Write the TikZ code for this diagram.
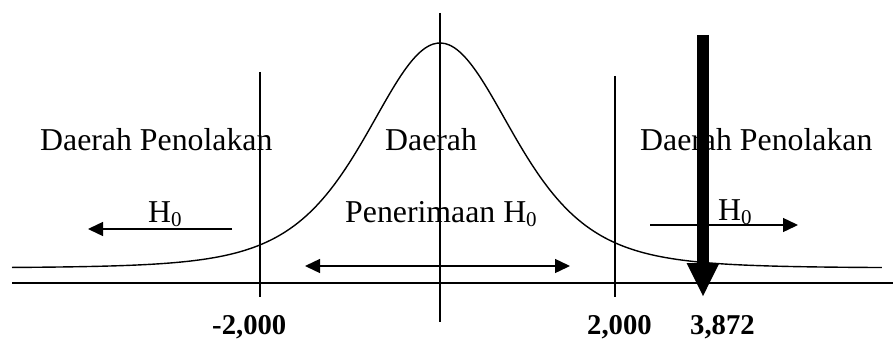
\documentclass[tikz,border=0pt]{standalone}
\usepackage{fontspec}
\setmainfont{Liberation Serif}
\usetikzlibrary{arrows.meta}
\begin{document}
\begin{tikzpicture}[x=1pt,y=-1pt,
  thinline/.style={line width=1.4pt},
  txt/.style={anchor=base west,inner sep=0pt,font=\fontsize{31.8}{34}\selectfont},
  num/.style={anchor=base west,inner sep=0pt,font=\fontsize{28.7}{30}\selectfont\bfseries},
  harrow/.style={line width=1.4pt,-{Triangle[length=15pt,width=14pt]}},
  darrow/.style={line width=1.4pt,{Triangle[length=15pt,width=14pt]}-{Triangle[length=15pt,width=14pt]}}]
\newcommand{\Hnol}{H\raisebox{-4pt}{\fontsize{21}{21}\selectfont 0}}
\useasboundingbox (0,0) rectangle (893,342);
% axis
\coordinate (axl) at (12,283);
\coordinate (axr) at (893,283);
\draw[line width=1.8pt] (axl) -- (axr);
% curve
\draw[thinline] plot[domain=-4.28:4.42,samples=220,smooth] ({440+100*\x},{268-225/((1+\x*\x/2.852)^3)});
% vertical lines
\coordinate (v1t) at (260,72);  \coordinate (v1b) at (260,297);
\coordinate (v2t) at (440,13);  \coordinate (v2b) at (440,322);
\coordinate (v3t) at (615,76);  \coordinate (v3b) at (615,297);
\draw[thinline] (v1t) -- (v1b);
\draw[thinline] (v2t) -- (v2b);
\draw[thinline] (v3t) -- (v3b);
% arrows
\coordinate (la1) at (232,229); \coordinate (la2) at (88,229);
\draw[harrow] (la1) -- (la2);
\coordinate (da1) at (305,266); \coordinate (da2) at (570,266);
\draw[darrow] (da1) -- (da2);
\coordinate (ra1) at (650,225); \coordinate (ra2) at (798,225);
\draw[harrow] (ra1) -- (ra2);
% texts
\node[txt] (tl) at (40,150) {Daerah Penolakan};
\node[txt] (tm) at (385,150) {Daerah};
\node[txt] (tm2) at (345,222) {Penerimaan \Hnol};
\node[txt] (hl) at (148,222) {\Hnol};
\node[txt] (tr) at (640,150) {Daerah Penolakan};
\node[txt] (hr) at (718,220) {\Hnol};
\node[num] (n1) at (212,334) {-2,000};
\node[num] (n2) at (587,334) {2,000};
\node[num] (n3) at (690,334) {3,872};
% big arrow
\coordinate (bt) at (703,35); \coordinate (bb) at (703,297);
\draw[line width=12pt,-{Triangle[length=34pt,width=30pt]}] (bt) -- (bb);
\end{tikzpicture}
\end{document}
